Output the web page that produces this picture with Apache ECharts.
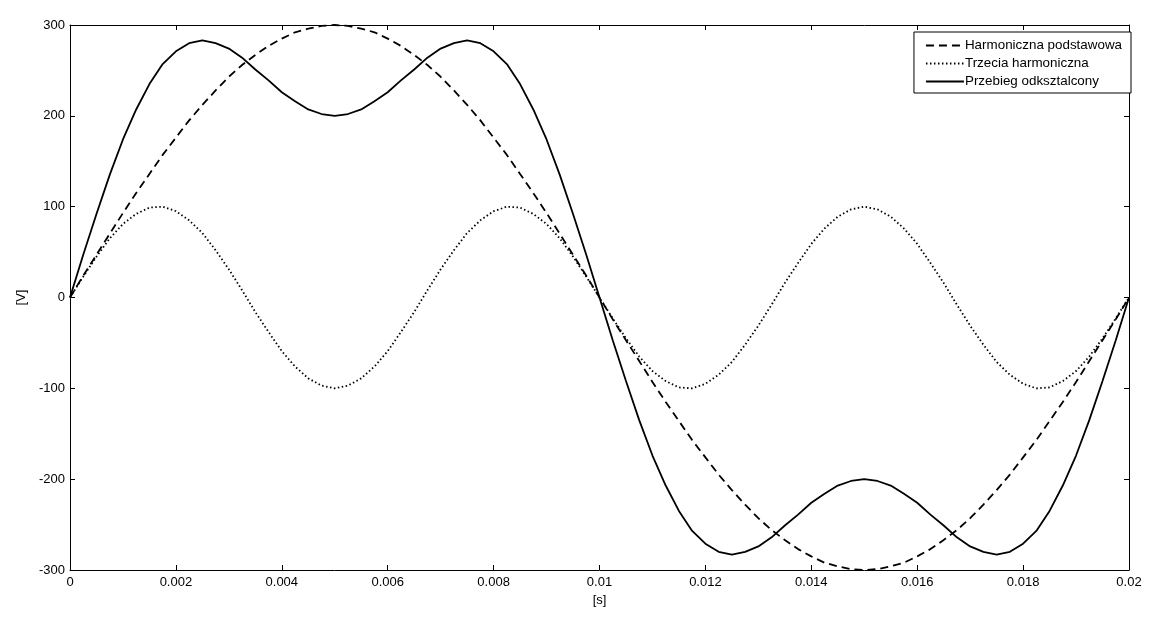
<!DOCTYPE html>
<html>
<head>
<meta charset="utf-8">
<script src="https://cdn.jsdelivr.net/npm/echarts@6/dist/echarts.min.js"></script>
<style>
  html, body { margin: 0; padding: 0; background: #fff; }
  #chart { width: 1150px; height: 620px; }
</style>
</head>
<body>
<div id="chart"></div>
<script>
// time samples [s], step 0.00025
const czas = [];
for (let i = 0; i <= 80; i++) czas.push(+(i * 0.00025).toFixed(5));

// values [V]
const podstawowa = [
  0, 24, 47, 70, 93, 115, 136, 157, 176, 195, 212, 228, 243, 256, 267, 277, 285, 292, 296, 299,
  300, 299, 296, 292, 285, 277, 267, 256, 243, 228, 212, 195, 176, 157, 136, 115, 93, 70, 47, 24,
  0, -24, -47, -70, -93, -115, -136, -157, -176, -195, -212, -228, -243, -256, -267, -277, -285, -292, -296, -299,
  -300, -299, -296, -292, -285, -277, -267, -256, -243, -228, -212, -195, -176, -157, -136, -115, -93, -70, -47, -24, 0
];
const trzecia = [
  0, 23, 45, 65, 81, 92, 99, 100, 95, 85, 71, 52, 31, 8, -16, -38, -59, -76, -89, -97,
  -100, -97, -89, -76, -59, -38, -16, 8, 31, 52, 71, 85, 95, 100, 99, 92, 81, 65, 45, 23,
  0, -23, -45, -65, -81, -92, -99, -100, -95, -85, -71, -52, -31, -8, 16, 38, 59, 76, 89, 97,
  100, 97, 89, 76, 59, 38, 16, -8, -31, -52, -71, -85, -95, -100, -99, -92, -81, -65, -45, -23, 0
];
const odksztalcony = [
  0, 47, 92, 135, 174, 207, 235, 257, 271, 280, 283, 280, 274, 264, 251, 239, 226, 216, 207, 202,
  200, 202, 207, 216, 226, 239, 251, 264, 274, 280, 283, 280, 271, 257, 235, 207, 174, 135, 92, 47,
  0, -47, -92, -135, -174, -207, -235, -257, -271, -280, -283, -280, -274, -264, -251, -239, -226, -216, -207, -202,
  -200, -202, -207, -216, -226, -239, -251, -264, -274, -280, -283, -280, -271, -257, -235, -207, -174, -135, -92, -47, 0
];
const nazwy = ['Harmoniczna podstawowa', 'Trzecia harmoniczna', 'Przebieg odksztalcony'];
const xTicks = [0, 0.002, 0.004, 0.006, 0.008, 0.01, 0.012, 0.014, 0.016, 0.018, 0.02];
const yTicks = [-300, -200, -100, 0, 100, 200, 300];

const pary = (ys) => czas.map((t, i) => [t, ys[i]]);
const font = 'Liberation Sans, Arial, sans-serif';

const chart = echarts.init(document.getElementById('chart'));

const osX = (show) => ({
  type: 'value',
  min: xTicks[0],
  max: xTicks[xTicks.length - 1],
  interval: 0.002,
  position: show ? 'bottom' : 'top',
  name: show ? '[s]' : '',
  nameLocation: 'middle',
  nameGap: 24,
  nameTextStyle: { color: '#000', fontSize: 13, fontFamily: font },
  axisLine: { show: true, onZero: false, lineStyle: { color: '#000', width: 1 } },
  axisTick: { show: true, inside: true, length: 5, lineStyle: { color: '#000' } },
  axisLabel: {
    show: show, color: '#000', fontSize: 13, fontFamily: font, margin: 6,
    formatter: (v) => String(+v.toFixed(4))
  },
  splitLine: { show: false }
});

const osY = (show) => ({
  type: 'value',
  min: yTicks[0],
  max: yTicks[yTicks.length - 1],
  interval: 100,
  position: show ? 'left' : 'right',
  name: show ? '[V]' : '',
  nameLocation: 'middle',
  nameGap: 28,
  nameTextStyle: { color: '#000', fontSize: 13, fontFamily: font },
  axisLine: { show: true, onZero: false, lineStyle: { color: '#000', width: 1 } },
  axisTick: { show: true, inside: true, length: 5, lineStyle: { color: '#000' } },
  axisLabel: { show: show, color: '#000', fontSize: 13, fontFamily: font, margin: 5 },
  splitLine: { show: false }
});

const seria = (name, ys, type) => ({
  name: name,
  type: 'line',
  data: pary(ys),
  smooth: false,
  symbol: 'none',
  lineStyle: { color: '#000', width: 1.8, type: type },
  itemStyle: { color: '#000' },
  animation: false
});

chart.setOption({
  animation: false,
  backgroundColor: '#fff',
  grid: { left: 70, right: 21, top: 25, bottom: 50 },
  legend: {
    orient: 'vertical',
    right: 19,
    top: 32,
    backgroundColor: '#fff',
    borderColor: '#000',
    borderWidth: 1,
    borderRadius: 0,
    padding: [7, 9, 5, 11],
    itemGap: 5,
    itemWidth: 38,
    itemHeight: 13,
    itemStyle: { opacity: 0 },
    textStyle: { color: '#000', fontSize: 13.4, fontFamily: font, padding: [0, 0, 0, -4] },
    data: nazwy
  },
  xAxis: [osX(true), osX(false)],
  yAxis: [osY(true), osY(false)],
  series: [
    seria(nazwy[0], podstawowa, [8, 5]),
    seria(nazwy[1], trzecia, [1.5, 2.5]),
    seria(nazwy[2], odksztalcony, 'solid')
  ]
});
</script>
</body>
</html>
